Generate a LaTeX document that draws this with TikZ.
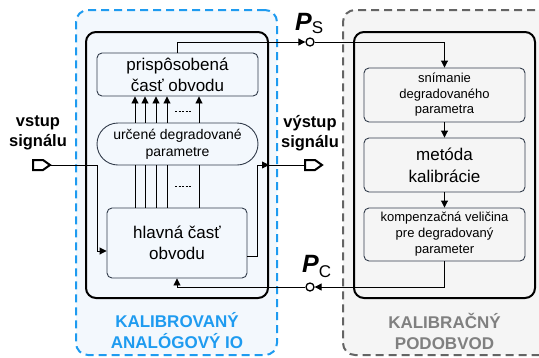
\documentclass[tikz,border=0pt]{standalone}
\usepackage{fontspec}
\setmainfont{Liberation Sans}
\usetikzlibrary{arrows.meta}
\definecolor{bluedash}{RGB}{30,155,240}
\definecolor{bluefill}{RGB}{243,248,253}
\definecolor{grayfill}{RGB}{245,245,245}
\definecolor{graydash}{RGB}{100,100,100}
\definecolor{graytext}{RGB}{128,128,128}
\definecolor{boxline}{RGB}{50,60,75}
\tikzset{
  outerblue/.style={draw=bluedash, line width=2pt, dash pattern=on 8pt off 5pt, fill=bluefill, rounded corners=12pt, inner sep=0pt},
  outergray/.style={draw=graydash, line width=2pt, dash pattern=on 8pt off 5pt, fill=grayfill, rounded corners=12pt, inner sep=0pt},
  container/.style={draw=black, line width=2pt, rounded corners=10pt, inner sep=0pt},
  subbox/.style={draw=boxline, line width=0.9pt, rounded corners=5pt, align=center, inner sep=0pt},
  conn/.style={draw=black, line width=0.9pt},
  arr/.style={conn, -{Triangle[length=7pt,width=7pt]}},
  port/.style={circle, draw=black, line width=1.3pt, fill=white, minimum size=8pt, inner sep=0pt},
  pinshape/.style={draw=black, line width=2pt, fill=white, line join=miter},
  lbl/.style={font=\fontsize{16.5}{20}\selectfont\bfseries, align=center, inner sep=0pt},
  biglbl/.style={font=\fontsize{17}{21}\selectfont\bfseries, align=center, inner sep=0pt},
  dots/.style={draw=black, line width=0.8pt, dash pattern=on 2pt off 1.5pt},
}
\begin{document}
\begin{tikzpicture}[x=1pt,y=-1pt]
\useasboundingbox (0,0) rectangle (539,357);
\clip (0,0) rectangle (539,357);
% outer dashed areas
\node[outerblue, minimum width=201pt, minimum height=345pt] (blue) at (176.5,182.5) {};
\node[outergray, minimum width=217pt, minimum height=345pt] (gray) at (451.5,182.5) {};
% containers
\node[container, minimum width=182pt, minimum height=266pt] (lbox) at (177,165) {};
\node[container, minimum width=181pt, minimum height=266pt] (rbox) at (444.5,165) {};
% left inner boxes
\node[subbox, minimum width=161pt, minimum height=43pt, font=\fontsize{17}{21}\selectfont] (pris) at (177.5,74.5) {prispôsobená\\časť obvodu};
\node[subbox, rounded corners=21pt, minimum width=161pt, minimum height=42pt, font=\fontsize{14}{17}\selectfont] (stad) at (177.5,144) {určené degradované\\parametre};
\node[subbox, minimum width=140pt, minimum height=70pt, font=\fontsize{17}{21}\selectfont] (hlav) at (177,243) {hlavná časť\\obvodu};
% right inner boxes
\node[subbox, minimum width=161pt, minimum height=54pt, font=\fontsize{13}{15.5}\selectfont] (snim) at (444.5,95) {snímanie\\degradovaného\\parametra};
\node[subbox, minimum width=161pt, minimum height=54pt, font=\fontsize{17}{22}\selectfont] (met) at (444.5,165) {metóda\\kalibrácie};
\node[subbox, minimum width=161pt, minimum height=53pt, font=\fontsize{13}{16}\selectfont] (komp) at (444.5,234.5) {kompenzačná veličina\\pre degradovaný\\parameter};
% parameter buses
\foreach \x in {135,145,156,167,199}{
  \coordinate (bx) at (\x,0);
  \draw[arr] (stad.north -| bx) -- (pris.south -| bx);
  \draw[conn] (stad.south -| bx) -- (hlav.north -| bx);
}
\coordinate (d1a) at (175,111); \coordinate (d1b) at (192,111);
\coordinate (d2a) at (175,186); \coordinate (d2b) at (192,186);
\draw[dots] (d1a) -- (d1b);
\draw[dots] (d2a) -- (d2b);
% pins
\draw[pinshape] (33,160) -- (43,160) -- (50,165) -- (43,170) -- (33,170) -- cycle;
\coordinate (inpin) at (50,165);
\draw[pinshape] (305,160) -- (315,160) -- (322,165) -- (315,170) -- (305,170) -- cycle;
\coordinate (outpin) at (305,165);
% ports
\node[port] (ps) at (310,42) {};
\node[port] (pc) at (310,287) {};
% signal path
\coordinate (inA) at (97,165);
\draw[arr] (inpin) -- (inA) |- ([yshift=-8pt]hlav.west);
\coordinate (outA) at (257.5,165);
\draw[conn] ([yshift=-13pt]hlav.east) -| (outA) -- (outpin);
\draw[arr] (outA) -- (lbox.east |- outA);
% calibration loop
\draw[arr] (pris.north) |- (ps);
\draw[arr] (ps) -| (snim.north);
\draw[arr] (snim) -- (met);
\draw[arr] (met) -- (komp);
\draw[arr] (komp.south) |- (pc);
\draw[arr] (pc) -| (hlav.south);
% labels
\node[lbl] (vst) at (38,133) {vstup\\signálu};
\node[lbl] (vys) at (310,133) {výstup\\signálu};
\node[inner sep=0pt, anchor=base west] (psl) at (295,30) {{\fontsize{25}{25}\selectfont\bfseries\itshape P}\raisebox{-3pt}{\fontsize{17}{17}\selectfont S}};
\node[inner sep=0pt, anchor=base west] (pcl) at (302,272) {{\fontsize{25}{25}\selectfont\bfseries\itshape P}\raisebox{-5pt}{\fontsize{17}{17}\selectfont C}};
\node[biglbl, text=bluedash] (kal) at (177,331) {KALIBROVANÝ\\ANALÓGOVÝ IO};
\node[biglbl, text=graytext] (pod) at (444.5,331) {KALIBRAČNÝ\\PODOBVOD};
\end{tikzpicture}
\end{document}
